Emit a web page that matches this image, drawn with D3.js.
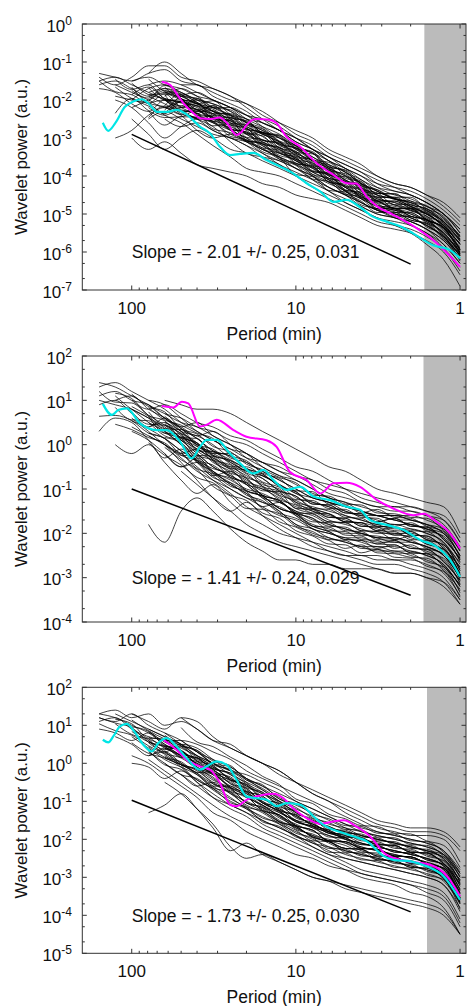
<!DOCTYPE html>
<html><head><meta charset="utf-8">
<script src="https://cdn.jsdelivr.net/npm/d3@7"></script>
<style>
body{margin:0;background:#fff}
svg{display:block}
text{font-family:"Liberation Sans",Arial,Helvetica,sans-serif;fill:#111}
</style>
</head><body>
<svg id="chart" width="467" height="1006"></svg>
<script>
// ---------------- DATA ----------------
// Period grid (min) shared by the black spectra
const periodGrid = [158,126,100,79,63,50,40,32,25,20,16,12.6,10,7.9,6.3,5.0,4.0,3.2,2.5,2.0,1.6,1.26,1.0];

// log10 wavelet power of the black spectra, panel 1
const panel1Black = [
[-1.3,-1.4,-1.5,-1.3,-1.2,-1.5,-1.6,-1.8,-2.0,-2.1,-2.4,-2.6,-2.8,-3.0,-3.3,-3.5,-3.7,-4.0,-4.2,-4.3,-4.5,-4.8,-5.2],
[-1.4,-1.6,-1.4,-1.1,-1.1,-1.4,-1.5,-1.7,-1.9,-2.2,-2.5,-2.8,-3.0,-3.2,-3.5,-3.7,-3.9,-4.1,-4.3,-4.5,-4.7,-5.0,-5.4],
[-1.6,-1.5,-1.7,-1.9,-1.7,-1.8,-2.0,-2.1,-2.3,-2.5,-2.6,-2.8,-3.1,-3.3,-3.5,-3.8,-4.0,-4.3,-4.5,-4.6,-4.8,-5.0,-5.5],
[-1.7,-1.8,-2.1,-2.3,-2.0,-2.0,-2.1,-2.3,-2.4,-2.6,-2.9,-3.0,-3.2,-3.5,-3.7,-3.9,-4.2,-4.4,-4.6,-4.7,-4.8,-5.1,-5.6],
[null,-3.0,-2.8,-2.4,-2.2,-2.3,-2.5,-2.4,-2.6,-2.9,-3.1,-3.3,-3.6,-3.8,-4.0,-4.3,-4.5,-4.8,-4.9,-5.0,-5.2,-5.5,-6.0],
[null,-1.6,-1.8,-2.0,-2.2,-1.9,-1.8,-2.0,-2.2,-2.5,-2.7,-2.9,-3.2,-3.4,-3.7,-3.9,-4.2,-4.4,-4.6,-4.7,-4.9,-5.2,-5.7],
[null,null,-2.0,-1.7,-1.6,-1.8,-2.0,-2.2,-2.2,-2.4,-2.7,-3.0,-3.2,-3.4,-3.6,-3.9,-4.1,-4.4,-4.6,-4.8,-5.0,-5.3,-5.8],
[null,null,-2.5,-2.9,-3.3,-3.0,-2.8,-3.0,-3.3,-3.4,-3.6,-3.8,-4.0,-4.2,-4.4,-4.7,-4.9,-5.1,-5.2,-5.3,-5.5,-5.9,-6.5],
[null,null,null,-1.8,-1.7,-1.9,-2.1,-2.3,-2.5,-2.7,-2.9,-3.1,-3.3,-3.6,-3.8,-4.1,-4.3,-4.6,-4.7,-4.8,-5.0,-5.3,-5.8],
[null,null,null,-1.3,-1.0,-1.3,-1.6,-1.7,-1.9,-2.1,-2.3,-2.6,-2.9,-3.1,-3.4,-3.6,-3.8,-4.0,-4.2,-4.3,-4.5,-4.7,-5.1],
[null,-2.0,-2.2,-2.6,-3.0,-2.7,-2.5,-2.6,-2.9,-3.1,-3.3,-3.5,-3.7,-3.9,-4.1,-4.4,-4.6,-4.8,-4.9,-5.1,-5.3,-5.6,-6.1],
[null,null,-1.5,-1.4,-1.6,-1.7,-1.9,-2.0,-2.2,-2.4,-2.6,-2.8,-3.0,-3.3,-3.6,-3.8,-4.1,-4.3,-4.4,-4.5,-4.7,-5.0,-5.5],
[null,null,null,-2.2,-2.4,-2.2,-2.1,-2.3,-2.6,-2.8,-3.1,-3.3,-3.5,-3.7,-4.0,-4.3,-4.5,-4.7,-4.8,-4.9,-5.1,-5.4,-5.9],
[null,null,null,null,-1.8,-2.0,-2.2,-2.4,-2.7,-2.9,-3.2,-3.4,-3.6,-3.9,-4.1,-4.3,-4.6,-4.9,-5.0,-5.1,-5.3,-5.6,-6.1],
[null,null,null,null,-1.9,-1.7,-1.9,-2.2,-2.4,-2.6,-2.8,-3.1,-3.4,-3.6,-3.9,-4.1,-4.4,-4.6,-4.7,-4.9,-5.0,-5.3,-5.7],
[null,null,-3.0,-3.3,-3.1,-3.4,-3.7,-3.8,-3.9,-4.0,-4.2,-4.3,-4.5,-4.6,-4.7,-4.9,-5.1,-5.3,-5.4,-5.5,-5.7,-6.0,-6.6],
[null,null,null,-2.5,-2.3,-2.5,-2.7,-2.9,-3.0,-3.2,-3.4,-3.7,-3.9,-4.1,-4.3,-4.5,-4.7,-4.9,-5.1,-5.2,-5.4,-5.8,-6.3],
[null,null,null,-1.9,-2.1,-2.3,-2.3,-2.5,-2.8,-3.0,-3.3,-3.4,-3.6,-3.8,-4.1,-4.4,-4.6,-4.8,-4.9,-5.0,-5.2,-5.5,-6.0],
[null,null,null,null,-2.2,-2.4,-2.8,-3.0,-2.9,-3.1,-3.4,-3.6,-3.8,-4.0,-4.3,-4.5,-4.7,-4.9,-5.0,-5.1,-5.3,-5.6,-6.1],
[null,null,null,null,null,-1.6,-1.6,-1.9,-2.1,-2.3,-2.6,-2.8,-3.1,-3.3,-3.6,-3.8,-4.0,-4.2,-4.3,-4.4,-4.6,-4.9,-5.3],
[null,null,null,-2.1,-2.0,-2.2,-2.4,-2.6,-2.8,-3.0,-3.2,-3.5,-3.8,-4.0,-4.2,-4.4,-4.7,-4.9,-5.0,-5.2,-5.4,-5.7,-6.2],
[null,-1.9,-2.0,-2.1,-2.4,-2.6,-2.9,-3.2,-3.5,-3.8,-3.9,-4.0,-4.2,-4.4,-4.6,-4.8,-5.0,-5.2,-5.3,-5.4,-5.6,-5.9,-6.4],
[null,null,null,null,-2.0,-2.2,-2.0,-2.1,-2.3,-2.6,-2.8,-3.0,-3.3,-3.5,-3.8,-4.0,-4.2,-4.5,-4.6,-4.7,-4.9,-5.2,-5.6],
[null,null,null,null,null,-2.3,-2.5,-2.7,-3.1,-3.4,-3.5,-3.6,-3.8,-4.1,-4.4,-4.6,-4.8,-5.0,-5.1,-5.2,-5.4,-5.7,-6.2],
[null,null,-2.2,-2.0,-1.8,-1.9,-2.1,-2.2,-2.4,-2.7,-2.9,-3.1,-3.4,-3.6,-3.8,-4.0,-4.3,-4.5,-4.6,-4.8,-5.0,-5.3,-5.8],
[-1.5,-1.4,-1.6,-1.8,-2.0,-2.3,-2.5,-2.8,-3.0,-3.2,-3.5,-3.7,-4.0,-4.3,-4.5,-4.7,-4.9,-5.1,-5.3,-5.5,-5.8,-6.2,-6.9],
[null,null,null,-1.6,-1.5,-1.6,-1.8,-2.0,-2.2,-2.4,-2.5,-2.7,-3.0,-3.3,-3.5,-3.7,-3.9,-4.2,-4.4,-4.5,-4.7,-5.0,-5.4],
[null,null,null,null,-2.5,-2.7,-2.6,-2.8,-3.0,-3.1,-3.3,-3.5,-3.7,-4.0,-4.3,-4.5,-4.8,-5.0,-5.1,-5.3,-5.5,-5.8,-6.3],
[null,null,-1.75,-1.95,-1.62,-1.85,-2.1,-2.02,-2.38,-2.5,-2.86,-2.92,-3.28,-3.4,-3.76,-3.84,-4.2,-4.36,-4.62,-4.66,-4.95,-5.2,-5.72],
[null,-1.45,-1.72,-1.6,-1.98,-2.15,-1.96,-2.3,-2.42,-2.78,-2.84,-3.18,-3.26,-3.6,-3.72,-4.12,-4.22,-4.55,-4.58,-4.8,-4.92,-5.25,-5.68],
[null,null,null,-1.68,-2.0,-2.05,-2.3,-2.28,-2.62,-2.64,-3.05,-3.12,-3.48,-3.58,-3.98,-4.02,-4.38,-4.5,-4.86,-4.84,-5.14,-5.38,-6.02],
[null,null,null,null,-2.15,-1.84,-2.08,-2.36,-2.5,-2.9,-2.85,-3.2,-3.35,-3.72,-3.82,-4.26,-4.32,-4.68,-4.66,-4.86,-4.98,-5.34,-5.78],
[null,null,-1.66,-2.08,-2.18,-2.38,-2.14,-2.5,-2.55,-2.98,-3.04,-3.38,-3.52,-3.88,-3.96,-4.38,-4.42,-4.78,-4.84,-5.06,-5.16,-5.52,-6.04],
[null,null,null,-2.05,-1.75,-1.9,-1.95,-2.2,-2.26,-2.58,-2.74,-3.08,-3.22,-3.58,-3.64,-3.98,-4.14,-4.46,-4.48,-4.66,-4.78,-5.12,-5.58],
[null,null,null,null,-2.36,-2.05,-2.4,-2.45,-2.78,-2.84,-3.26,-3.32,-3.68,-3.74,-4.16,-4.22,-4.58,-4.72,-4.96,-4.96,-5.24,-5.48,-6.06],
[-1.5,-1.78,-1.86,-2.08,-1.84,-2.18,-2.24,-2.56,-2.52,-2.88,-2.94,-3.36,-3.44,-3.86,-3.92,-4.28,-4.36,-4.66,-4.76,-4.92,-5.06,-5.44,-5.86],
[null,null,null,-1.45,-1.78,-1.96,-2.36,-2.14,-2.48,-2.54,-2.88,-2.94,-3.38,-3.42,-3.86,-3.94,-4.36,-4.44,-4.76,-4.74,-5.06,-5.26,-5.94],
[null,null,null,null,-1.86,-2.28,-2.34,-2.68,-2.64,-3.08,-3.12,-3.4,-3.52,-3.88,-3.94,-4.38,-4.52,-4.86,-4.84,-5.06,-5.14,-5.56,-6.08],
[null,-2.35,-1.96,-2.28,-2.46,-2.44,-2.26,-2.58,-2.74,-3.08,-3.14,-3.56,-3.72,-4.08,-4.14,-4.48,-4.54,-4.86,-4.94,-5.16,-5.24,-5.64,-6.16],
[null,null,null,null,-1.66,-1.98,-2.06,-2.46,-2.54,-2.76,-2.86,-3.26,-3.42,-3.78,-3.84,-4.16,-4.24,-4.56,-4.56,-4.76,-4.86,-5.22,-5.66],
[null,null,null,-2.28,-2.66,-2.44,-2.46,-2.56,-2.96,-3.04,-3.36,-3.52,-3.96,-4.02,-4.38,-4.42,-4.76,-4.86,-5.06,-5.06,-5.34,-5.58,-6.24],
[null,null,-1.56,-1.86,-1.96,-2.08,-2.16,-2.46,-2.46,-2.76,-2.96,-3.26,-3.36,-3.68,-3.86,-4.16,-4.26,-4.64,-4.66,-4.84,-4.96,-5.34,-5.76],
[null,null,null,null,null,-1.96,-2.16,-2.24,-2.56,-2.74,-3.06,-3.14,-3.46,-3.64,-3.96,-4.14,-4.46,-4.56,-4.76,-4.86,-5.14,-5.36,-5.94],
[null,null,null,-1.86,-1.84,-1.96,-2.36,-2.44,-2.66,-2.74,-3.16,-3.24,-3.56,-3.66,-4.06,-4.14,-4.46,-4.64,-4.86,-4.86,-5.16,-5.36,-5.94],
[null,null,null,null,-2.26,-2.04,-2.26,-2.36,-2.76,-2.84,-3.06,-3.16,-3.56,-3.74,-4.06,-4.16,-4.56,-4.66,-4.86,-4.96,-5.16,-5.36,-6.04],
[null,-1.66,-1.96,-2.16,-2.36,-2.04,-2.26,-2.46,-2.76,-2.86,-3.16,-3.26,-3.66,-3.76,-4.16,-4.26,-4.56,-4.66,-4.86,-4.86,-5.16,-5.36,-5.96],
[null,null,null,null,-1.96,-2.36,-2.46,-2.56,-2.66,-3.06,-3.26,-3.56,-3.66,-3.96,-4.16,-4.46,-4.66,-4.96,-4.96,-5.16,-5.26,-5.66,-6.06],
[null,null,-1.86,-1.66,-1.96,-2.06,-2.26,-2.16,-2.46,-2.56,-2.86,-2.96,-3.26,-3.36,-3.76,-3.86,-4.26,-4.36,-4.56,-4.56,-4.86,-5.06,-5.66],
[null,null,null,-2.46,-2.16,-2.26,-2.36,-2.76,-2.86,-3.06,-3.16,-3.46,-3.56,-3.96,-4.06,-4.36,-4.46,-4.76,-4.86,-5.06,-5.16,-5.56,-5.96],
[null,null,null,null,-1.76,-1.86,-2.06,-2.36,-2.36,-2.66,-2.76,-3.16,-3.26,-3.56,-3.76,-4.06,-4.16,-4.46,-4.46,-4.76,-4.86,-5.16,-5.56]
];

// panel 2
const panel2Black = [
[1.4,1.3,1.1,0.9,0.7,0.6,0.4,0.3,0.1,0.0,-0.2,-0.4,-0.6,-0.8,-0.9,-1.0,-1.1,-1.2,-1.3,-1.4,-1.5,-1.6,-2.1],
[1.3,1.4,1.2,1.0,0.8,0.5,0.3,0.1,-0.1,-0.3,-0.4,-0.6,-0.8,-1.0,-1.2,-1.3,-1.4,-1.5,-1.6,-1.6,-1.7,-1.9,-2.4],
[1.1,1.2,1.0,0.9,0.6,0.4,0.5,0.2,0.0,-0.2,-0.5,-0.7,-0.9,-1.1,-1.2,-1.4,-1.5,-1.6,-1.7,-1.8,-1.9,-2.0,-2.5],
[0.9,1.0,0.7,0.4,0.6,0.3,0.0,-0.1,-0.4,-0.6,-0.7,-0.9,-1.1,-1.3,-1.4,-1.5,-1.6,-1.7,-1.8,-1.8,-1.9,-2.1,-2.6],
[0.3,0.6,0.5,0.1,-0.3,-0.1,-0.4,-0.7,-0.6,-0.9,-1.2,-1.3,-1.5,-1.7,-1.8,-1.9,-2.0,-2.1,-2.2,-2.2,-2.3,-2.5,-3.0],
[null,1.0,1.1,0.8,0.6,0.3,0.2,0.0,-0.3,-0.4,-0.6,-0.8,-1.0,-1.2,-1.3,-1.5,-1.6,-1.6,-1.7,-1.7,-1.8,-2.0,-2.5],
[null,0.0,-0.2,0.0,-0.4,-0.8,-1.1,-0.9,-1.3,-1.6,-1.8,-2.0,-2.1,-2.2,-2.3,-2.4,-2.5,-2.5,-2.6,-2.6,-2.7,-2.9,-3.4],
[null,null,0.3,0.1,-0.2,-0.5,-0.3,-0.6,-0.9,-1.1,-1.4,-1.3,-1.6,-1.9,-2.0,-2.1,-2.2,-2.3,-2.3,-2.4,-2.5,-2.7,-3.2],
[null,null,null,-1.8,-2.2,-1.5,-1.2,-1.5,-1.9,-2.2,-2.4,-2.6,-2.6,-2.7,-2.7,-2.8,-2.8,-2.8,-2.9,-2.9,-3.0,-3.1,-3.5],
[null,null,1.0,0.8,0.9,0.7,0.5,0.4,0.2,0.1,-0.1,-0.3,-0.5,-0.6,-0.8,-1.0,-1.2,-1.3,-1.4,-1.4,-1.5,-1.7,-2.2],
[null,null,null,0.9,0.6,0.4,0.2,0.3,0.0,-0.3,-0.5,-0.7,-0.8,-1.0,-1.2,-1.3,-1.5,-1.6,-1.6,-1.7,-1.8,-1.9,-2.4],
[null,null,null,0.5,0.3,0.1,-0.2,-0.5,-0.7,-0.9,-1.2,-1.5,-1.8,-2.0,-2.1,-2.2,-2.3,-2.3,-2.4,-2.4,-2.5,-2.7,-3.2],
[null,1.1,0.8,0.6,0.3,0.0,-0.3,-0.6,-0.8,-1.0,-1.1,-1.3,-1.5,-1.6,-1.8,-1.9,-2.0,-2.1,-2.1,-2.2,-2.3,-2.5,-3.0],
[null,null,0.6,0.3,0.0,-0.2,-0.5,-0.8,-1.1,-1.4,-1.6,-1.8,-2.0,-2.2,-2.4,-2.5,-2.5,-2.6,-2.6,-2.7,-2.8,-3.0,-3.5],
[null,null,null,null,0.7,0.5,0.4,0.2,0.0,-0.2,-0.4,-0.6,-0.7,-0.9,-1.1,-1.2,-1.3,-1.4,-1.4,-1.5,-1.6,-1.7,-2.2],
[null,null,null,0.2,0.0,-0.2,-0.1,-0.4,-0.6,-0.8,-1.0,-1.1,-1.3,-1.4,-1.5,-1.6,-1.7,-1.8,-1.8,-1.9,-2.0,-2.2,-2.7],
[null,null,0.8,0.5,0.2,0.1,-0.1,-0.3,-0.5,-0.5,-0.7,-0.9,-1.1,-1.2,-1.3,-1.4,-1.5,-1.6,-1.7,-1.8,-1.9,-2.1,-2.6],
[null,null,null,null,0.0,-0.4,-0.8,-1.2,-1.5,-1.3,-1.6,-1.9,-2.1,-2.3,-2.4,-2.5,-2.6,-2.7,-2.7,-2.8,-2.9,-3.1,-3.6],
[null,null,null,0.4,0.5,0.2,-0.1,-0.3,-0.5,-0.7,-0.9,-1.0,-1.3,-1.5,-1.6,-1.7,-1.8,-1.9,-2.0,-2.0,-2.1,-2.3,-2.9],
[null,null,null,null,1.0,0.9,0.8,0.8,0.7,0.5,0.3,0.1,-0.1,-0.3,-0.5,-0.6,-0.8,-1.0,-1.1,-1.2,-1.3,-1.4,-2.0],
[null,null,0.4,0.2,0.0,-0.3,-0.6,-0.8,-1.0,-1.2,-1.4,-1.6,-1.7,-1.9,-2.0,-2.1,-2.1,-2.2,-2.2,-2.3,-2.4,-2.6,-3.1],
[null,null,null,null,-0.2,-0.5,-0.4,-0.7,-1.0,-1.2,-1.3,-1.5,-1.8,-1.9,-2.1,-2.2,-2.3,-2.4,-2.4,-2.5,-2.6,-2.8,-3.3],
[null,null,null,null,null,0.2,0.0,-0.2,-0.4,-0.6,-0.7,-0.9,-1.2,-1.3,-1.4,-1.6,-1.7,-1.8,-1.9,-1.9,-2.0,-2.2,-2.8],
[1.0,0.9,0.8,0.6,0.4,0.1,-0.2,-0.5,-0.7,-0.9,-1.0,-1.2,-1.4,-1.5,-1.7,-1.8,-1.9,-2.0,-2.0,-2.1,-2.2,-2.4,-2.9],
[null,null,null,null,0.5,0.3,0.0,-0.2,-0.2,-0.4,-0.6,-0.8,-1.0,-1.2,-1.3,-1.4,-1.5,-1.6,-1.6,-1.7,-1.8,-2.0,-2.5],
[null,null,null,1.0,0.9,0.6,0.3,0.1,-0.1,-0.2,-0.4,-0.5,-0.7,-0.8,-1.0,-1.1,-1.3,-1.4,-1.5,-1.5,-1.6,-1.8,-2.3],
[null,null,null,null,null,-0.6,-0.9,-1.2,-1.5,-1.8,-2.0,-2.2,-2.3,-2.4,-2.5,-2.6,-2.7,-2.8,-2.9,-2.9,-3.0,-3.2,-3.6],
[null,null,null,null,0.3,0.0,-0.4,-0.6,-0.9,-1.1,-1.3,-1.4,-1.6,-1.8,-1.9,-2.0,-2.0,-2.1,-2.1,-2.2,-2.3,-2.5,-3.0],
[1.2,0.96,0.94,0.66,0.44,0.16,0.04,-0.24,-0.36,-0.54,-0.66,-0.94,-1.06,-1.34,-1.36,-1.54,-1.56,-1.74,-1.66,-1.84,-1.86,-2.14,-2.56],
[null,0.84,0.56,0.54,0.26,0.14,-0.24,-0.26,-0.54,-0.76,-1.04,-1.06,-1.34,-1.46,-1.64,-1.66,-1.84,-1.86,-1.94,-1.96,-2.14,-2.26,-2.84],
[null,null,0.86,0.64,0.36,0.34,-0.04,-0.16,-0.34,-0.56,-0.84,-0.96,-1.24,-1.26,-1.44,-1.46,-1.64,-1.66,-1.84,-1.76,-1.94,-2.06,-2.64],
[null,null,null,0.74,0.36,0.14,-0.04,-0.26,-0.54,-0.56,-0.94,-1.06,-1.44,-1.46,-1.64,-1.66,-1.84,-1.86,-2.04,-1.96,-2.14,-2.26,-2.84],
[null,null,null,null,0.46,0.24,-0.14,-0.16,-0.44,-0.66,-0.94,-1.16,-1.44,-1.56,-1.74,-1.76,-1.94,-1.96,-2.04,-2.06,-2.24,-2.36,-2.94],
[null,1.16,1.04,0.66,0.54,0.16,0.14,-0.24,-0.36,-0.64,-0.76,-1.04,-1.16,-1.44,-1.46,-1.64,-1.66,-1.84,-1.86,-1.94,-1.96,-2.24,-2.66],
[null,null,0.54,0.36,0.14,-0.14,-0.36,-0.54,-0.66,-1.04,-1.16,-1.44,-1.56,-1.74,-1.76,-1.94,-1.96,-2.14,-2.16,-2.34,-2.36,-2.64,-3.06],
[null,null,null,null,0.16,0.04,-0.34,-0.46,-0.74,-0.86,-1.14,-1.26,-1.54,-1.66,-1.94,-1.96,-2.14,-2.16,-2.34,-2.26,-2.44,-2.56,-3.14],
[null,null,null,0.84,0.56,0.44,0.26,0.14,-0.24,-0.36,-0.64,-0.76,-1.04,-1.06,-1.34,-1.36,-1.54,-1.46,-1.64,-1.66,-1.84,-1.96,-2.54],
[null,null,null,null,null,0.36,0.14,-0.14,-0.26,-0.54,-0.76,-1.04,-1.16,-1.44,-1.56,-1.74,-1.76,-1.94,-1.96,-2.14,-2.16,-2.44,-2.96],
[null,null,1.14,0.86,0.74,0.36,0.24,-0.04,-0.16,-0.44,-0.56,-0.74,-0.86,-1.14,-1.16,-1.34,-1.36,-1.54,-1.56,-1.64,-1.66,-1.94,-2.36],
[null,null,null,0.26,0.14,-0.14,-0.36,-0.74,-0.86,-1.04,-1.16,-1.44,-1.56,-1.84,-1.96,-2.14,-2.16,-2.24,-2.26,-2.44,-2.46,-2.74,-3.16],
[null,null,null,null,-0.06,-0.34,-0.56,-0.94,-1.16,-1.44,-1.46,-1.74,-1.86,-2.04,-2.16,-2.34,-2.26,-2.44,-2.46,-2.54,-2.56,-2.84,-3.26],
[null,null,null,null,0.44,0.26,0.04,-0.34,-0.46,-0.74,-0.86,-1.14,-1.26,-1.44,-1.56,-1.74,-1.76,-1.84,-1.86,-2.04,-2.06,-2.34,-2.76],
[null,0.46,0.34,0.16,0.04,-0.24,-0.26,-0.64,-0.76,-1.04,-1.16,-1.44,-1.56,-1.84,-1.86,-2.04,-2.06,-2.24,-2.16,-2.34,-2.36,-2.64,-3.06],
[null,null,null,null,null,0.04,-0.24,-0.36,-0.74,-0.86,-1.14,-1.26,-1.54,-1.56,-1.74,-1.76,-1.94,-1.96,-2.14,-2.06,-2.24,-2.36,-2.94],
[null,null,0.74,0.46,0.44,0.16,0.04,-0.34,-0.56,-0.84,-0.96,-1.24,-1.36,-1.54,-1.56,-1.74,-1.76,-1.94,-1.86,-2.04,-2.06,-2.34,-2.76],
[null,null,null,0.64,0.26,0.24,-0.14,-0.36,-0.64,-0.76,-1.14,-1.26,-1.54,-1.66,-1.84,-1.86,-2.04,-2.06,-2.14,-2.16,-2.34,-2.46,-3.04],
[null,null,null,null,0.64,0.36,0.14,-0.14,-0.26,-0.54,-0.66,-0.94,-1.06,-1.34,-1.36,-1.54,-1.56,-1.74,-1.66,-1.84,-1.86,-2.14,-2.56],
[null,null,null,null,null,-0.16,-0.54,-0.66,-0.94,-1.06,-1.44,-1.56,-1.84,-1.96,-2.14,-2.16,-2.34,-2.36,-2.44,-2.46,-2.64,-2.76,-3.34],
[0.64,0.66,0.54,0.26,0.14,-0.24,-0.36,-0.64,-0.86,-1.14,-1.26,-1.54,-1.66,-1.84,-1.96,-2.14,-2.16,-2.34,-2.26,-2.44,-2.46,-2.74,-3.16],
[null,null,null,0.04,-0.24,-0.46,-0.74,-0.86,-1.14,-1.26,-1.54,-1.66,-1.94,-2.06,-2.24,-2.26,-2.44,-2.36,-2.54,-2.56,-2.74,-2.86,-3.44]
];

// panel 3
const panel3Black = [
[1.3,1.4,1.2,1.3,1.0,1.1,0.9,0.6,0.4,0.2,0.0,-0.3,-0.5,-0.7,-0.9,-1.1,-1.3,-1.5,-1.6,-1.7,-1.7,-1.8,-2.2],
[1.2,1.1,1.3,1.0,0.8,0.6,0.3,0.1,-0.1,-0.4,-0.6,-0.8,-1.0,-1.2,-1.4,-1.6,-1.8,-1.9,-2.0,-2.1,-2.2,-2.4,-2.9],
[1.1,1.2,0.9,0.7,0.6,0.4,0.2,0.0,-0.3,-0.5,-0.7,-1.0,-1.3,-1.5,-1.7,-1.8,-1.9,-2.0,-2.1,-2.2,-2.3,-2.5,-3.1],
[0.9,0.8,0.6,0.8,0.5,0.2,0.0,-0.3,-0.5,-0.8,-1.1,-1.3,-1.5,-1.7,-1.9,-2.0,-2.1,-2.2,-2.3,-2.4,-2.5,-2.7,-3.3],
[null,1.3,1.1,0.9,0.7,0.5,0.3,0.0,-0.2,-0.5,-0.9,-1.2,-1.4,-1.6,-1.8,-1.9,-2.1,-2.2,-2.3,-2.4,-2.5,-2.7,-3.4],
[null,0.7,0.5,0.2,0.4,0.2,-0.1,-0.4,-0.7,-0.9,-1.1,-1.4,-1.7,-1.9,-2.1,-2.3,-2.4,-2.5,-2.6,-2.7,-2.8,-3.0,-3.6],
[null,null,0.0,-0.1,-0.4,-0.2,-0.5,-0.8,-1.1,-1.3,-1.6,-1.8,-2.0,-2.2,-2.4,-2.5,-2.6,-2.7,-2.8,-2.9,-3.0,-3.2,-3.8],
[null,null,null,-1.3,-1.1,-0.8,-1.2,-1.7,-2.3,-2.1,-2.4,-2.6,-2.8,-3.0,-3.1,-3.2,-3.3,-3.4,-3.5,-3.6,-3.7,-3.9,-4.5],
[null,null,1.3,1.1,0.9,1.2,1.1,0.7,0.4,0.2,0.0,-0.2,-0.5,-0.8,-1.0,-1.3,-1.5,-1.7,-1.8,-1.9,-1.9,-2.0,-2.6],
[null,null,null,0.6,0.3,0.5,0.4,0.1,-0.2,-0.4,-0.6,-0.9,-1.1,-1.3,-1.5,-1.7,-1.9,-2.0,-2.1,-2.2,-2.3,-2.4,-3.0],
[null,null,0.7,0.4,0.1,-0.1,-0.3,-0.6,-0.9,-1.2,-1.5,-1.7,-1.9,-2.1,-2.3,-2.5,-2.6,-2.7,-2.8,-2.9,-3.0,-3.2,-3.9],
[null,null,null,0.3,0.0,-0.3,-0.6,-0.5,-0.8,-1.1,-1.3,-1.6,-1.9,-2.2,-2.4,-2.6,-2.8,-2.9,-3.0,-3.1,-3.2,-3.4,-4.1],
[null,null,null,null,0.6,0.6,0.5,0.3,0.1,-0.2,-0.4,-0.6,-0.8,-1.0,-1.2,-1.4,-1.6,-1.8,-1.9,-2.0,-2.1,-2.3,-2.9],
[null,null,null,null,0.2,-0.1,-0.5,-0.9,-1.2,-1.4,-1.7,-1.9,-2.1,-2.3,-2.5,-2.7,-2.9,-3.0,-3.1,-3.2,-3.3,-3.5,-4.2],
[null,null,null,0.9,0.7,0.5,0.2,-0.1,-0.3,-0.6,-0.8,-1.0,-1.2,-1.4,-1.6,-1.7,-1.8,-1.9,-2.0,-2.1,-2.2,-2.4,-3.0],
[null,null,null,null,null,0.6,0.3,0.0,-0.1,-0.4,-0.7,-1.0,-1.3,-1.5,-1.7,-1.8,-1.9,-2.0,-2.1,-2.2,-2.3,-2.5,-3.1],
[null,null,0.2,0.0,-0.3,-0.6,-0.9,-1.3,-1.5,-1.8,-2.0,-2.2,-2.4,-2.5,-2.7,-2.8,-2.9,-3.0,-3.1,-3.2,-3.4,-3.6,-4.3],
[null,null,null,null,-0.5,-0.8,-1.2,-1.6,-2.2,-2.5,-2.4,-2.6,-2.8,-3.0,-3.1,-3.3,-3.4,-3.5,-3.6,-3.7,-3.8,-4.0,-4.5],
[null,null,null,0.7,0.4,0.2,0.0,-0.2,-0.4,-0.7,-1.0,-1.2,-1.5,-1.7,-1.8,-2.0,-2.2,-2.3,-2.4,-2.5,-2.6,-2.8,-3.4],
[null,null,null,null,0.4,0.2,-0.1,-0.3,-0.6,-0.8,-1.0,-1.3,-1.5,-1.6,-1.8,-1.9,-2.0,-2.1,-2.2,-2.3,-2.4,-2.6,-3.2],
[1.3,1.2,1.0,0.8,0.5,0.3,0.1,-0.1,-0.4,-0.6,-0.8,-1.1,-1.4,-1.6,-1.8,-2.0,-2.1,-2.2,-2.3,-2.4,-2.5,-2.7,-3.2],
[null,null,null,null,0.0,-0.3,-0.4,-0.7,-1.0,-1.2,-1.4,-1.6,-1.8,-2.0,-2.2,-2.4,-2.5,-2.6,-2.7,-2.8,-2.9,-3.1,-3.7],
[null,null,null,null,null,1.2,0.9,0.6,0.5,0.2,0.0,-0.2,-0.5,-0.8,-1.0,-1.2,-1.4,-1.6,-1.7,-1.8,-1.8,-1.9,-2.3],
[null,null,null,0.1,-0.2,-0.5,-0.8,-1.1,-1.4,-1.6,-1.8,-2.0,-2.2,-2.4,-2.6,-2.8,-3.0,-3.1,-3.2,-3.4,-3.5,-3.8,-4.5],
[null,null,0.9,0.6,0.3,0.0,-0.2,-0.5,-0.8,-1.0,-1.2,-1.5,-1.7,-1.9,-2.0,-2.1,-2.2,-2.3,-2.4,-2.5,-2.6,-2.8,-3.5],
[null,null,null,null,0.8,0.5,0.2,0.0,-0.2,-0.3,-0.5,-0.7,-1.0,-1.2,-1.4,-1.6,-1.7,-1.8,-1.9,-2.0,-2.1,-2.3,-2.8],
[null,null,null,null,null,-0.3,-0.6,-0.9,-1.1,-1.3,-1.5,-1.7,-1.9,-2.1,-2.2,-2.3,-2.4,-2.5,-2.6,-2.7,-2.8,-3.0,-3.7],
[null,null,null,0.2,0.3,0.0,-0.3,-0.6,-0.6,-0.9,-1.1,-1.4,-1.6,-1.8,-1.9,-2.1,-2.3,-2.4,-2.5,-2.6,-2.7,-2.9,-3.6],
[1.2,1.06,0.94,0.56,0.44,0.16,0.04,-0.24,-0.46,-0.74,-0.86,-1.24,-1.36,-1.64,-1.76,-1.94,-1.96,-2.14,-2.16,-2.34,-2.36,-2.64,-3.16],
[null,1.04,0.76,0.64,0.46,0.34,-0.04,-0.26,-0.64,-0.76,-1.04,-1.16,-1.54,-1.66,-1.84,-1.96,-2.14,-2.16,-2.34,-2.36,-2.54,-2.66,-3.34],
[null,null,0.96,0.84,0.46,0.34,0.06,-0.06,-0.44,-0.56,-0.94,-1.06,-1.34,-1.46,-1.74,-1.76,-1.94,-1.96,-2.14,-2.16,-2.34,-2.46,-3.14],
[null,null,null,0.64,0.36,0.44,0.06,-0.16,-0.54,-0.76,-1.04,-1.26,-1.64,-1.76,-2.04,-2.06,-2.24,-2.26,-2.44,-2.46,-2.64,-2.76,-3.44],
[null,null,null,null,0.46,0.34,-0.04,-0.26,-0.44,-0.66,-1.04,-1.26,-1.54,-1.66,-1.94,-1.96,-2.24,-2.26,-2.44,-2.46,-2.64,-2.76,-3.54],
[null,1.16,1.04,0.66,0.64,0.26,0.14,-0.14,-0.26,-0.64,-0.76,-1.14,-1.26,-1.54,-1.66,-1.84,-1.96,-2.14,-2.16,-2.34,-2.36,-2.64,-3.16],
[null,null,0.54,0.26,0.14,-0.04,-0.26,-0.64,-0.76,-1.04,-1.26,-1.54,-1.66,-1.94,-2.06,-2.24,-2.26,-2.44,-2.46,-2.64,-2.66,-2.94,-3.56],
[null,null,null,null,null,0.44,0.16,-0.06,-0.44,-0.56,-0.94,-1.06,-1.44,-1.56,-1.84,-1.86,-2.04,-2.06,-2.24,-2.26,-2.44,-2.56,-3.24],
[null,null,null,0.84,0.56,0.34,-0.04,-0.16,-0.54,-0.66,-1.04,-1.26,-1.54,-1.66,-1.84,-1.96,-2.14,-2.16,-2.34,-2.36,-2.54,-2.66,-3.34],
[null,null,null,null,0.14,-0.04,-0.16,-0.54,-0.76,-1.14,-1.26,-1.54,-1.76,-2.04,-2.06,-2.34,-2.36,-2.54,-2.56,-2.74,-2.76,-3.04,-3.66],
[null,null,1.14,0.86,0.64,0.46,0.34,-0.04,-0.16,-0.44,-0.66,-0.94,-1.16,-1.44,-1.56,-1.74,-1.76,-1.94,-1.96,-2.14,-2.16,-2.44,-2.96],
[null,null,null,0.44,0.16,0.04,-0.24,-0.26,-0.64,-0.86,-1.24,-1.36,-1.74,-1.86,-2.04,-2.16,-2.34,-2.36,-2.54,-2.56,-2.74,-2.86,-3.54],
[null,null,null,null,0.74,0.46,0.34,0.06,-0.06,-0.44,-0.56,-0.94,-1.06,-1.34,-1.46,-1.64,-1.66,-1.84,-1.86,-2.04,-2.06,-2.34,-2.86],
[null,null,null,null,null,0.24,-0.14,-0.26,-0.64,-0.86,-1.24,-1.36,-1.64,-1.76,-2.04,-2.06,-2.24,-2.26,-2.44,-2.46,-2.64,-2.76,-3.54],
[1.04,0.86,0.74,0.46,0.24,-0.04,-0.26,-0.54,-0.66,-1.04,-1.16,-1.44,-1.66,-1.94,-2.06,-2.24,-2.26,-2.44,-2.46,-2.64,-2.66,-2.94,-3.56],
[null,null,null,0.54,0.26,0.14,-0.14,-0.36,-0.74,-0.86,-1.14,-1.36,-1.64,-1.76,-2.04,-2.06,-2.24,-2.26,-2.44,-2.46,-2.64,-2.76,-3.44],
[null,null,0.84,0.56,0.44,0.16,0.14,-0.24,-0.36,-0.74,-0.86,-1.24,-1.36,-1.64,-1.76,-1.94,-1.96,-2.14,-2.16,-2.34,-2.36,-2.64,-3.06],
[null,null,null,null,0.34,-0.04,-0.16,-0.44,-0.66,-1.04,-1.16,-1.54,-1.66,-1.94,-2.06,-2.24,-2.26,-2.54,-2.56,-2.74,-2.76,-3.04,-3.66],
[null,null,null,null,null,0.94,0.56,0.44,0.16,-0.06,-0.34,-0.56,-0.94,-1.06,-1.34,-1.46,-1.64,-1.66,-1.84,-1.86,-2.04,-2.16,-2.74],
[null,null,null,0.34,-0.04,-0.16,-0.44,-0.66,-1.04,-1.16,-1.54,-1.66,-1.94,-2.06,-2.34,-2.36,-2.54,-2.56,-2.74,-2.76,-2.94,-3.06,-3.84],
[null,null,null,null,0.64,0.26,0.14,-0.14,-0.26,-0.54,-0.76,-1.04,-1.26,-1.54,-1.66,-1.84,-1.86,-2.04,-2.06,-2.24,-2.26,-2.54,-3.06],
[null,null,null,null,null,-0.06,-0.44,-0.66,-0.94,-1.16,-1.44,-1.56,-1.84,-1.96,-2.24,-2.26,-2.44,-2.46,-2.64,-2.66,-2.84,-2.96,-3.64]
];

// Highlighted spectra: [period (min), log10 power]
const panel1Magenta = [[65.6,-1.52],[58.5,-1.6],[52,-1.9],[48.5,-2.08],[42,-2.35],[38.4,-2.48],[33,-2.5],[29,-2.46],[26.4,-2.6],[23,-2.92],[21.5,-2.85],[20,-2.66],[17.5,-2.5],[14.5,-2.52],[13.2,-2.6],[11.4,-2.97],[9.4,-3.23],[7.5,-3.66],[5.9,-3.97],[4.9,-4.19],[4.3,-4.2],[3.7,-4.55],[3.2,-4.8],[2.55,-5.02],[1.84,-5.37],[1.39,-5.76],[1.0,-6.39]];
const panel1Cyan = [[150,-2.6],[139,-2.81],[126,-2.61],[110,-2.18],[98,-2.04],[87,-1.98],[79,-2.09],[70,-2.31],[61,-2.31],[53,-2.26],[46,-2.39],[38.4,-2.7],[33.3,-2.88],[29,-3.23],[25.2,-3.45],[21.9,-3.42],[18.2,-3.39],[15.1,-3.58],[12.5,-3.75],[10.4,-3.93],[8.6,-4.19],[7.1,-4.41],[5.9,-4.68],[4.9,-4.63],[4.1,-4.81],[3.4,-5.07],[2.8,-5.2],[2.3,-5.33],[1.93,-5.51],[1.46,-5.82],[1.15,-5.95],[1.0,-6.17]];
const panel2Magenta = [[65.6,0.87],[55.7,0.84],[49.5,0.97],[45.2,0.93],[38.4,0.41],[34.9,0.45],[30.3,0.56],[24,0.33],[20,0.18],[15.1,0.1],[13.1,-0.05],[10.9,-0.61],[8.6,-0.8],[7.1,-1.1],[5.9,-0.87],[4.9,-0.86],[4.07,-0.95],[3.2,-1.25],[2.55,-1.44],[1.93,-1.59],[1.67,-1.56],[1.39,-1.74],[1.15,-2.0],[1.0,-2.34]];
const panel2Cyan = [[150,0.92],[132,0.67],[121,0.78],[107,0.82],[89,0.48],[70.5,0.33],[61.2,0.33],[50.8,0.07],[43.2,-0.31],[38.4,-0.05],[34.9,0.11],[30.3,0.11],[25.2,-0.2],[21.9,-0.42],[18.2,-0.65],[15.8,-0.57],[13.7,-0.8],[11.4,-1.02],[9.4,-0.95],[7.8,-1.17],[6.2,-1.25],[4.9,-1.4],[4.07,-1.47],[3.54,-1.7],[2.8,-1.81],[2.22,-1.92],[1.75,-2.15],[1.39,-2.3],[1.15,-2.6],[1.0,-2.98]];
const panel3Magenta = [[64.1,0.62],[53.2,0.35],[46.2,0.09],[38.4,-0.08],[33.3,-0.17],[29,-0.52],[25.2,-1.09],[23,-1.13],[20,-0.96],[16.6,-0.85],[13.7,-0.8],[11.9,-0.92],[10.4,-1.18],[8.6,-1.44],[7.1,-1.59],[5.9,-1.53],[5.1,-1.5],[4.3,-1.66],[3.54,-1.92],[2.9,-2.36],[2.32,-2.54],[1.84,-2.61],[1.52,-2.67],[1.2,-2.97],[1.0,-3.5]];
const panel3Cyan = [[150,0.62],[139,0.55],[129,0.72],[118,0.97],[107,1.04],[98,0.88],[85,0.49],[75.5,0.31],[68.9,0.53],[61.2,0.66],[53.2,0.44],[46.2,0.13],[38.4,-0.17],[34.9,-0.08],[30.3,0.05],[26.4,-0.04],[23,-0.43],[20,-0.87],[17.3,-0.92],[15.1,-0.96],[13.1,-1.13],[11.4,-1.05],[9.4,-1.09],[7.8,-1.4],[6.8,-1.62],[5.9,-1.75],[5.1,-1.84],[4.5,-1.92],[3.7,-2.05],[2.9,-2.45],[2.55,-2.54],[2.0,-2.58],[1.6,-2.71],[1.26,-2.97],[1.0,-3.59]];

// Power-law fit lines and labels
const slopeValues = [2.01, 1.41, 1.73];
const slopeStartPower = [1.25e-3, 0.1, 0.107]; // power at 100 min
const slopePeriodRange = [100, 2];
const slopeLabels = ["Slope = - 2.01 +/- 0.25, 0.031","Slope = - 1.41 +/- 0.24, 0.029","Slope = - 1.73 +/- 0.25, 0.030"];
const shadeStartPeriod = [1.65, 1.67, 1.59];
const yExponentRange = [[-7,0],[-4,2],[-5,2]];
const xTickLabels = [100, 10, 1];
const xTitle = "Period (min)";
const yTitle = "Wavelet power (a.u.)";

// ---------------- DRAWING ----------------
const svg = d3.select("#chart");
const panelTop = [24, 356, 687.3];
const panelH = 266;
const left = 82.3, right = 466;
const x = d3.scaleLog().domain([200, 0.92]).range([left, right]);

const panels = [
  {black: panel1Black, magenta: panel1Magenta, cyan: panel1Cyan},
  {black: panel2Black, magenta: panel2Magenta, cyan: panel2Cyan},
  {black: panel3Black, magenta: panel3Magenta, cyan: panel3Cyan}
];

panels.forEach((p, i) => {
  const top = panelTop[i], bottom = top + panelH;
  const [e0, e1] = yExponentRange[i];
  const y = d3.scaleLog().domain([Math.pow(10, e0), Math.pow(10, e1)]).range([bottom, top]);
  const g = svg.append("g");
  const clipId = "clip" + i;
  g.append("clipPath").attr("id", clipId).append("rect")
    .attr("x", left).attr("y", top).attr("width", right - left).attr("height", panelH);

  g.append("rect").attr("x", x(shadeStartPeriod[i])).attr("y", top)
    .attr("width", right - x(shadeStartPeriod[i])).attr("height", panelH)
    .attr("fill", "#bbbbbb");

  const plot = g.append("g").attr("clip-path", `url(#${clipId})`);
  const lineGen = d3.line()
    .defined(d => d[1] !== null)
    .x(d => x(d[0])).y(d => y(Math.pow(10, d[1])))
    .curve(d3.curveMonotoneX);

  p.black.forEach(vals => {
    const pts = periodGrid.map((per, k) => [per, vals[k]]);
    plot.append("path").attr("d", lineGen(pts))
      .attr("fill", "none").attr("stroke", "#000").attr("stroke-width", 0.75);
  });

  plot.append("path").attr("d", lineGen(p.magenta))
    .attr("fill", "none").attr("stroke", "#ff00ff").attr("stroke-width", 2);
  plot.append("path").attr("d", lineGen(p.cyan))
    .attr("fill", "none").attr("stroke", "#00e5e5").attr("stroke-width", 2.2);

  const fit = slopePeriodRange.map(per => [per, slopeStartPower[i] * Math.pow(per / 100, slopeValues[i])]);
  plot.append("line")
    .attr("x1", x(fit[0][0])).attr("y1", y(fit[0][1]))
    .attr("x2", x(fit[1][0])).attr("y2", y(fit[1][1]))
    .attr("stroke", "#000").attr("stroke-width", 1.5);

  const labelY = [258, 584, 922][i];
  g.append("text").attr("x", x(100)).attr("y", labelY)
    .style("font-size", "17.5px").text(slopeLabels[i]);

  g.append("rect").attr("x", left).attr("y", top).attr("width", right - left).attr("height", panelH)
    .attr("fill", "none").attr("stroke", "#333").attr("stroke-width", 1);

  const xMinor = [];
  [1, 10, 100].forEach(d => { for (let m = 2; m <= 9; m++) { const v = m * d; if (v < 199 && v > 0.93) xMinor.push(v); } });
  xTickLabels.forEach(v => {
    g.append("line").attr("x1", x(v)).attr("x2", x(v)).attr("y1", bottom).attr("y2", bottom - 4.5).attr("stroke", "#333");
    g.append("line").attr("x1", x(v)).attr("x2", x(v)).attr("y1", top).attr("y2", top + 4.5).attr("stroke", "#333");
    g.append("text").attr("x", x(v)).attr("y", bottom + 23.5).attr("text-anchor", "middle")
      .style("font-size", "17px").text(v);
  });
  xMinor.forEach(v => {
    g.append("line").attr("x1", x(v)).attr("x2", x(v)).attr("y1", bottom).attr("y2", bottom - 2.5).attr("stroke", "#333");
    g.append("line").attr("x1", x(v)).attr("x2", x(v)).attr("y1", top).attr("y2", top + 2.5).attr("stroke", "#333");
  });

  for (let e = e0; e <= e1; e++) {
    const v = Math.pow(10, e);
    g.append("line").attr("x1", left).attr("x2", left + 4.5).attr("y1", y(v)).attr("y2", y(v)).attr("stroke", "#333");
    g.append("line").attr("x1", right).attr("x2", right - 4.5).attr("y1", y(v)).attr("y2", y(v)).attr("stroke", "#333");
    const t = g.append("text").attr("x", 72).attr("y", y(v) + 7.8).attr("text-anchor", "end");
    t.append("tspan").style("font-size", "17px").text("10");
    t.append("tspan").attr("dy", -7).style("font-size", "12px").text(String(e));
    if (e < e1) {
      [2, 5].forEach(m => {
        const mv = m * v;
        g.append("line").attr("x1", left).attr("x2", left + 2.5).attr("y1", y(mv)).attr("y2", y(mv)).attr("stroke", "#333");
        g.append("line").attr("x1", right).attr("x2", right - 2.5).attr("y1", y(mv)).attr("y2", y(mv)).attr("stroke", "#333");
      });
    }
  }

  g.append("text").attr("x", (left + right) / 2).attr("y", bottom + 50).attr("text-anchor", "middle")
    .style("font-size", "17.5px").text(xTitle);
  g.append("text").attr("transform", `translate(26.5,${(top + bottom) / 2}) rotate(-90)`)
    .attr("text-anchor", "middle").style("font-size", "17px").text(yTitle);
});
</script>
</body></html>
